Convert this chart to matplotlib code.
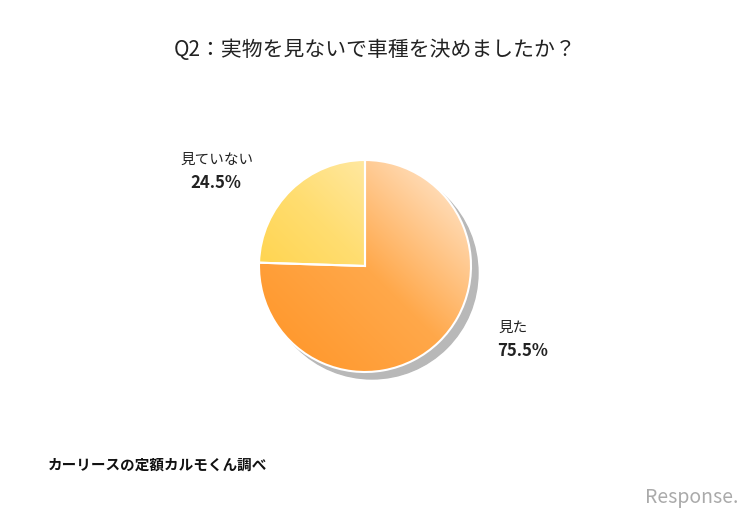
import numpy as np
import matplotlib.pyplot as plt
from matplotlib.patches import Wedge, Circle
from matplotlib.colors import LinearSegmentedColormap

plt.rcParams["font.family"] = "Noto Sans CJK JP"

title = "Q2：実物を見ないで車種を決めましたか？"
labels = ["見た", "見ていない"]
shares = [75.5, 24.5]
source = "カーリースの定額カルモくん調べ"

# slice gradients: (dark, mid, light) from bottom-left to top-right
grads = [("#ff9425", "#ffa84a", "#ffeedd"), ("#ffcc30", "#ffdd70", "#fff3d0")]

fig = plt.figure(figsize=(7.5, 5.2), dpi=100)
ax = fig.add_axes([0, 0, 1, 1])
ax.set_xlim(0, 750)
ax.set_ylim(520, 0)
ax.axis("off")

cx, cy, r = 365, 266, 106

# shadow
ax.add_patch(Circle((cx + 7, cy + 7), r, color="#b8b8b8", zorder=1))

# diagonal gradient field over pie box
n = 300
xs = np.linspace(0, 1, n)
X, Y = np.meshgrid(xs, xs)
field = 1 - (X + (1 - Y)) / 2
extent = [cx - r, cx + r, cy + r, cy - r]

start = 90.0
for share, (c0, cm, c1) in zip(shares, grads):
    sweep = share / 100 * 360
    th1 = -start
    th2 = -start + sweep
    w = Wedge((cx, cy), r, th1, th2, facecolor="none", edgecolor="white", lw=1.5, zorder=4)
    ax.add_patch(w)
    cmap = LinearSegmentedColormap.from_list("g", [(0, c1), (0.5, cm), (1, c0)])
    im = ax.imshow(field, cmap=cmap, extent=extent, zorder=3, vmin=0, vmax=1)
    im.set_clip_path(w)
    start -= sweep

ax.text(375, 50, title, ha="center", va="center", fontsize=15, color="#222222")
ax.text(180, 160, labels[1], ha="left", va="center", fontsize=10.5, color="#222222")
ax.text(190, 183, f"{shares[1]}%", ha="left", va="center", fontsize=12, fontweight="bold", color="#222222")
ax.text(498, 328, labels[0], ha="left", va="center", fontsize=10.5, color="#222222")
ax.text(497, 351, f"{shares[0]}%", ha="left", va="center", fontsize=12, fontweight="bold", color="#222222")
ax.text(48, 465, source, ha="left", va="center", fontsize=10.5, fontweight="bold", color="#111111")
ax.text(738, 497, "Response.", ha="right", va="center", fontsize=14, style="italic", color="#aaaaaa")

fig.savefig("out.png", dpi=100)
